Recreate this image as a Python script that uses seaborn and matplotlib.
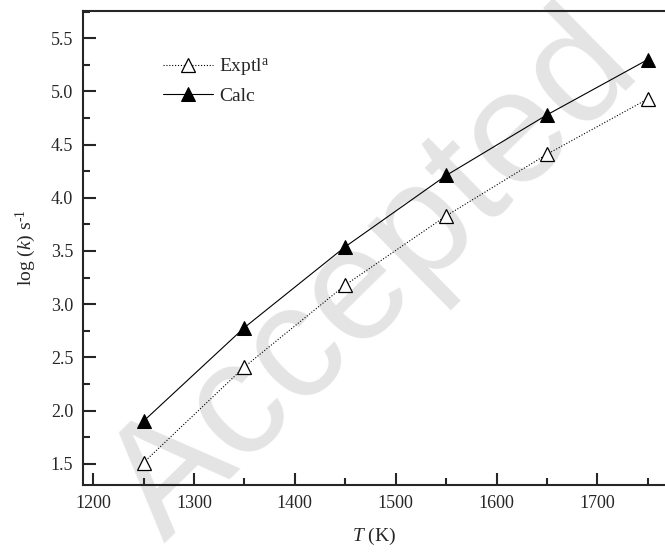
import matplotlib
matplotlib.use("Agg")
import matplotlib.pyplot as plt
import pandas as pd
import seaborn as sns
from matplotlib.ticker import MultipleLocator, FormatStrFormatter

# values
temps = [1250, 1350, 1450, 1550, 1650, 1750]
log_k_expt = [1.51, 2.41, 3.18, 3.83, 4.41, 4.93]
log_k_calc = [1.90, 2.78, 3.54, 4.21, 4.78, 5.30]

df = pd.DataFrame({
    'T': temps * 2,
    'logk': log_k_expt + log_k_calc,
    'series': ['Exptl'] * len(temps) + ['Calc'] * len(temps),
})

sns.set_style('ticks')
plt.rcParams['font.family'] = ['Liberation Serif', 'DejaVu Serif']
plt.rcParams['mathtext.fontset'] = 'custom'
plt.rcParams['mathtext.rm'] = 'Liberation Serif'
plt.rcParams['mathtext.it'] = 'Liberation Serif:italic'

fig = plt.figure(figsize=(6.65, 5.52), dpi=100)
ax = fig.add_axes([0.1248, 0.1214, 0.8752, 0.8586])

# watermark, below the data lines
ax.text(0.565, 0.495, 'Accepted', transform=fig.transFigure, fontsize=116,
        color='#e4e4e4', family='Liberation Sans', rotation=44.5,
        ha='center', va='center', zorder=0, clip_on=False)

exp = df[df['series'] == 'Exptl']
calc = df[df['series'] == 'Calc']
sns.lineplot(data=exp, x='T', y='logk', ax=ax, color='black', linestyle=(0, (1, 1.6)),
             linewidth=0.8, marker='^', markersize=10, markerfacecolor='white',
             markeredgecolor='black', markeredgewidth=0.9, label='Exptl$^{\\mathrm{a}}$')
sns.lineplot(data=calc, x='T', y='logk', ax=ax, color='black', linestyle='-',
             linewidth=0.8, marker='^', markersize=10, markerfacecolor='black',
             markeredgecolor='black', label='Calc')

ax.set_xlim(1190, 1767)
ax.set_ylim(1.3, 5.756)
ax.xaxis.set_major_locator(MultipleLocator(100))
ax.xaxis.set_minor_locator(MultipleLocator(50))
ax.yaxis.set_major_locator(MultipleLocator(0.5))
ax.yaxis.set_minor_locator(MultipleLocator(0.25))
ax.yaxis.set_major_formatter(FormatStrFormatter('%.1f'))
ax.tick_params(which='major', direction='in', length=9, width=1.5, labelsize=13, pad=7)
ax.tick_params(which='minor', direction='in', length=5, width=1.5)

for s in ['left', 'bottom', 'top']:
    ax.spines[s].set_linewidth(1.5)
ax.spines['right'].set_visible(False)

ax.set_xlabel('$T$ (K)', fontsize=14, labelpad=10)
ax.set_ylabel('log ($k$) s$^{\\text{-1}}$', fontsize=14, labelpad=9)

ax.legend(loc='upper left', bbox_to_anchor=(0.137, 0.905), frameon=False, fontsize=14,
          handlelength=2.6, handletextpad=0.3, labelspacing=0.5, borderaxespad=0,
          borderpad=0)

fig.savefig('out.png', dpi=100)
